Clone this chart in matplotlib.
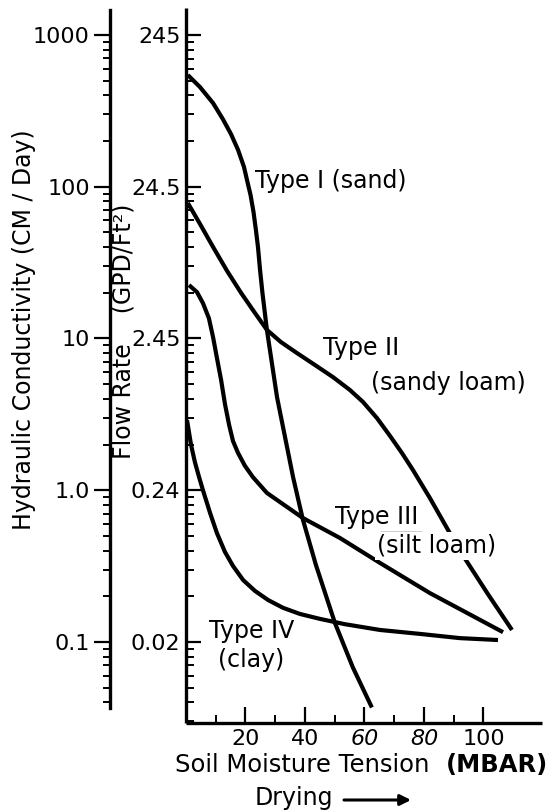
import matplotlib
matplotlib.use("Agg")
import matplotlib.pyplot as plt
from matplotlib.lines import Line2D
from matplotlib.ticker import FixedLocator, LogLocator, NullFormatter

# Soil moisture tension (MBAR) and hydraulic conductivity (CM/Day) per soil type
tension_sand = [0.6, 4.7, 9.1, 12.4, 15.1, 17.5, 19.5, 20.5, 21.7, 22.7, 23.5, 24.2,
                24.9, 25.7, 27.2, 30.6, 36.0, 39.3, 43.7, 50.1, 56.1, 62.5]
k_sand = [545, 454, 356, 279, 223, 175, 135, 111, 88.3, 68.2, 51.9, 40.1,
          28.3, 20, 11.4, 4.11, 1.22, 0.64, 0.321, 0.133, 0.068, 0.037]

tension_sandy_loam = [0.6, 4.7, 9.1, 13.8, 18.5, 22.9, 27.2, 31.9, 37.3, 43.4, 49.4,
                      55.1, 59.5, 64.2, 68.6, 72.6, 76.3, 82.0, 88.7, 94.1, 101.5, 109.6]
k_sandy_loam = [78.2, 56.9, 40.1, 27.9, 20.0, 15.0, 11.4, 9.48, 8.02, 6.68, 5.57,
                4.58, 3.82, 2.99, 2.28, 1.76, 1.36, 0.889, 0.522, 0.347, 0.207, 0.120]

tension_silt_loam = [1.0, 3.7, 5.7, 7.7, 9.1, 10.4, 11.8, 13.1, 14.5, 15.8, 17.5, 19.8,
                     22.5, 27.2, 39.3, 51.8, 65.2, 82.0, 106.6]
k_silt_loam = [22.5, 20.2, 17.1, 13.6, 10.2, 7.44, 5.33, 3.70, 2.69, 2.11, 1.76, 1.45,
               1.22, 0.96, 0.656, 0.484, 0.332, 0.210, 0.116]

tension_clay = [0.34, 1.7, 3.0, 4.4, 5.7, 8.1, 10.4, 13.1, 15.8, 19.2, 23.2, 27.6,
                32.6, 38.3, 45.0, 53.4, 65.2, 78.7, 92.1, 104.9]
k_clay = [2.90, 1.99, 1.53, 1.22, 1.00, 0.708, 0.522, 0.392, 0.317, 0.256, 0.217, 0.189,
          0.168, 0.153, 0.142, 0.131, 0.120, 0.113, 0.106, 0.103]

# Axis ticks
x_ticks = [20, 40, 60, 80, 100]
x_minor = [10, 30, 50, 70, 90]
k_ticks = [1000, 100, 10, 1, 0.1]
k_labels = ["1000", "100", "10", "1.0", "0.1"]
flow_labels = ["245", "24.5", "2.45", "0.24", "0.02"]

W, H = 551, 810
fig = plt.figure(figsize=(W / 100, H / 100), dpi=100)
fig.patch.set_facecolor("white")


def fx(px):
    return px / W


def fy(py):
    return 1 - py / H


# Main plotting area (its left spine is the flow-rate scale)
ax = fig.add_axes([fx(186), fy(723), fx(542) - fx(186), fy(8) - fy(723)])
ax.set_yscale("log")
ax.set_xlim(0, 119.7)
ax.set_ylim(0.02924, 1507)
ax.set_facecolor("none")
for s in ("top", "right"):
    ax.spines[s].set_visible(False)
for s in ("left", "bottom"):
    ax.spines[s].set_linewidth(2.4)
    ax.spines[s].set_capstyle("butt")

ax.yaxis.set_major_locator(FixedLocator(k_ticks))
ax.set_yticklabels(flow_labels)
ax.yaxis.set_minor_locator(LogLocator(base=10, subs=range(2, 10)))
ax.yaxis.set_minor_formatter(NullFormatter())
ax.tick_params(axis="y", which="major", direction="in", length=11, width=1.6,
               labelsize=16, pad=4)
ax.tick_params(axis="y", which="minor", direction="in", length=5.5, width=1.4)

ax.xaxis.set_major_locator(FixedLocator(x_ticks))
ax.set_xticklabels([str(v) for v in x_ticks])
ax.xaxis.set_minor_locator(FixedLocator(x_minor))
ax.tick_params(axis="x", which="major", direction="in", length=11.5, width=1.6,
               labelsize=16, pad=4)
ax.tick_params(axis="x", which="minor", direction="in", length=6, width=1.4)
for lbl in ax.get_xticklabels():
    if lbl.get_text() in ("60", "80"):
        lbl.set_fontstyle("italic")

curves = [
    (tension_sand, k_sand),
    (tension_sandy_loam, k_sandy_loam),
    (tension_silt_loam, k_silt_loam),
    (tension_clay, k_clay),
]
for xs, ys in curves:
    ax.plot(xs, ys, color="black", lw=3.0, solid_capstyle="butt",
            solid_joinstyle="round", clip_on=False)

# Hydraulic conductivity scale, drawn as a free-standing spine to the left
ax2 = fig.add_axes([fx(110), fy(708), 0.0001, fy(10) - fy(708)])
ax2.set_yscale("log")
ax2.set_ylim(0.0367, 1461)
ax2.set_facecolor("none")
for s in ("top", "right", "bottom"):
    ax2.spines[s].set_visible(False)
ax2.spines["left"].set_linewidth(2.4)
ax2.set_xticks([])
ax2.yaxis.set_major_locator(FixedLocator(k_ticks))
ax2.set_yticklabels(k_labels)
ax2.yaxis.set_minor_locator(LogLocator(base=10, subs=range(2, 10)))
ax2.yaxis.set_minor_formatter(NullFormatter())
ax2.tick_params(axis="y", which="major", direction="out", length=11.5, width=1.6,
                labelsize=16, pad=3)
ax2.tick_params(axis="y", which="minor", direction="out", length=5, width=1.4)

# Axis titles
fig.text(fx(24), fy(330), "Hydraulic Conductivity (CM / Day)", rotation=90,
         ha="center", va="center", fontsize=17)
fig.text(fx(123), fy(331), "Flow Rate    (GPD/Ft\u00b2)", rotation=90,
         ha="center", va="center", fontsize=17)
fig.text(fx(175), fy(765), "Soil Moisture Tension", ha="left", va="center",
         fontsize=17.5)
fig.text(fx(548), fy(765), "(MBAR)", ha="right", va="center", fontsize=17.5,
         fontweight="bold")
fig.text(fx(255), fy(798), "Drying", ha="left", va="center", fontsize=17)
ax.annotate("", xy=(411, H - 800), xytext=(344, H - 800),
            xycoords="figure pixels", textcoords="figure pixels",
            arrowprops=dict(arrowstyle="-|>", lw=2.2, color="black",
                            mutation_scale=16, shrinkA=0, shrinkB=0))

# Curve labels
lab = dict(ha="left", va="center", fontsize=17)
fig.text(fx(255), fy(181), "Type I (sand)", **lab)
fig.text(fx(323), fy(348), "Type II", **lab)
fig.text(fx(371), fy(383), "(sandy loam)", **lab)
fig.text(fx(335), fy(517), "Type III", **lab)
fig.text(fx(377), fy(546), "(silt loam)",
         bbox=dict(facecolor="white", edgecolor="none", pad=1.5), **lab)
fig.text(fx(209), fy(631), "Type IV", **lab)
fig.text(fx(218), fy(660), "(clay)", **lab)

# Rule between "Type III" and "(silt loam)"
fig.add_artist(Line2D([fx(381), fx(421)], [fy(532), fy(532)], color="black", lw=1.0,
                      transform=fig.transFigure))

fig.savefig("out.png", dpi=100, facecolor="white")
